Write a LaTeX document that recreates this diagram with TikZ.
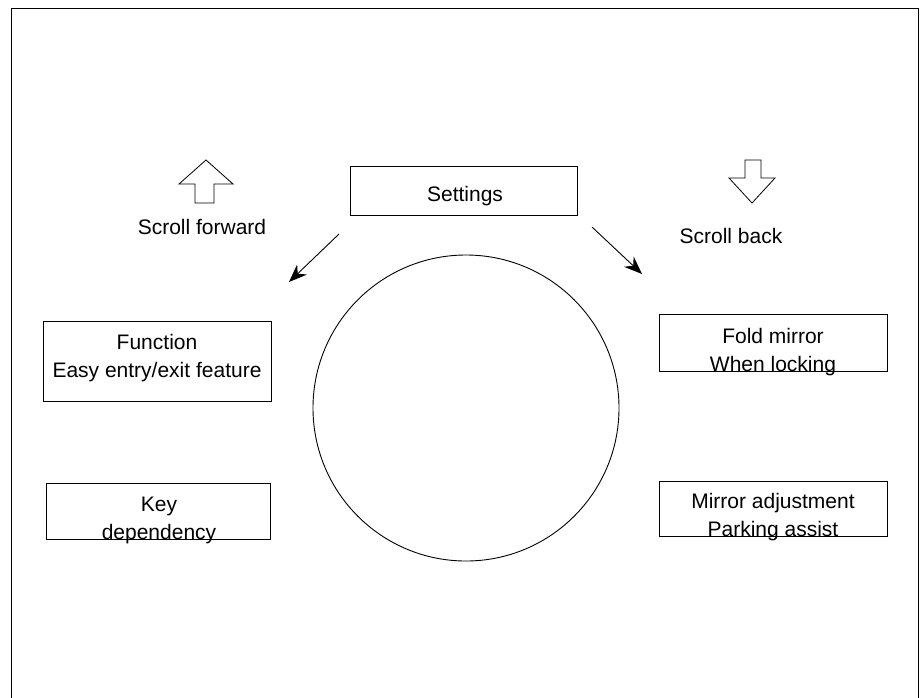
\documentclass[tikz,border=0pt]{standalone}
\usepackage{fontspec}
\setmainfont{Liberation Sans}
\usetikzlibrary{arrows.meta}
\begin{document}
\begin{tikzpicture}[x=1pt,y=-1pt,
  box/.style={draw, line width=0.9pt, inner sep=0pt, outer sep=0pt},
  lbl/.style={font=\fontsize{21}{28}\selectfont, align=center, inner sep=0pt},
  conn/.style={line width=0.9pt, -{Stealth[length=18pt,width=14pt,inset=6pt]}},
  hollow/.style={draw, line width=0.8pt, line join=miter}]
\useasboundingbox (0,0) rectangle (923,697);
\clip (0,0) rectangle (923,697);
% outer frame
\draw[line width=1pt] (11,8) rectangle (918,720);
% boxes
\node[box, minimum width=227pt, minimum height=49pt] (settings) at (463.5,190.5) {};
\node[box, minimum width=228pt, minimum height=80pt] (func) at (157,361) {};
\node[box, minimum width=224pt, minimum height=56pt] (key) at (158,511) {};
\node[box, minimum width=228pt, minimum height=57pt] (fold) at (773,342.5) {};
\node[box, minimum width=228pt, minimum height=55pt] (mirror) at (773,508.5) {};
% texts
\node[lbl, anchor=base] (tsettings) at (465,201) {Settings};
\node[lbl] (tfunc) at (157,358.5) {Function\\Easy entry/exit feature};
\node[lbl] (tkey) at (159,520.5) {Key\\dependency};
\node[lbl] (tfold) at (773,352) {Fold mirror\\When locking};
\node[lbl] (tmirror) at (773,517.5) {Mirror adjustment\\Parking assist};
\node[lbl, anchor=base] (tfwd) at (202,234) {Scroll forward};
\node[lbl, anchor=base] (tback) at (731,243) {Scroll back};
% circle
\node[draw, circle, line width=0.9pt, minimum size=306pt, inner sep=0pt] (wheel) at (466,408) {};
% hollow arrows
\draw[hollow] (206,160) -- (233,184) -- (214,184) -- (214,203) -- (195,203) -- (195,184) -- (179,184) -- cycle;
\draw[hollow] (752,203) -- (775,178) -- (761,178) -- (761,160) -- (745,160) -- (745,178) -- (729,178) -- cycle;
% diagonal arrows
\coordinate (la) at (339,234);
\coordinate (lb) at (289,282);
\coordinate (ra) at (592,227);
\coordinate (rb) at (642,274);
\draw[conn] (la) -- (lb);
\draw[conn] (ra) -- (rb);
\end{tikzpicture}
\end{document}
